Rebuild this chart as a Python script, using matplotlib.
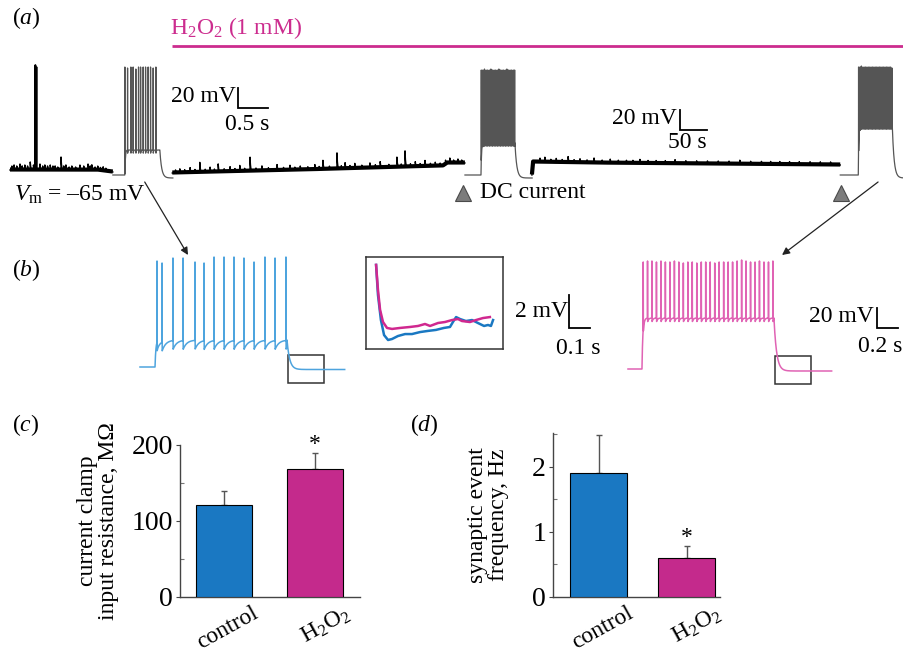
import numpy as np
import matplotlib
matplotlib.use("Agg")
import matplotlib.pyplot as plt
from matplotlib.patches import Rectangle, ConnectionPatch
from matplotlib import transforms as mtrans

# ---------------- data ----------------
groups = ["control", "H$_2$O$_2$"]
resistance_mean = [121, 168]     # MOhm
resistance_sem = [18, 21]
freq_mean = [1.91, 0.60]          # Hz
freq_sem = [0.58, 0.18]

# panel (a): slow (continuous) recording, time in s, voltage in mV
segA_base_t = [18.5, 180, 200, 209]
segA_base_v = [-65, -65, -66.5, -67]
segA_ev_t = [22, 26, 31, 37, 41, 46, 51, 56, 62, 74, 79, 83, 88, 93, 98, 102, 107, 113, 118,
             122, 128, 133, 140, 148, 155, 163, 167, 170, 176, 181, 186, 191, 196]
segA_ev_a = [4, 5, 4, 6, 4, 5, 4, 8, 5, 6, 4, 5, 4, 5, 4, 4, 3, 13, 4, 5, 3, 4, 3, 5, 4, 6,
             4, 5, 3, 4, 3, 4, 3]
segA_spike_t = [65.5, 67.5]
segA_spike_pk = [40, 38]

segB_base_t = [319, 556, 741, 820, 828, 861]
segB_base_v = [-68, -65, -62, -61, -58, -58]
segB_ev_t = [325, 333, 342, 352, 361, 370, 380, 389, 397, 404, 415, 426, 435, 444, 453, 463,
             474, 485, 497, 513, 525, 537, 546, 556, 570, 583, 591, 598, 610, 624, 632, 639,
             648, 657, 670, 685, 695, 704, 720, 735, 743, 750, 760, 769, 778, 787, 797,
             806, 815, 825, 833, 840, 848, 855]
segB_ev_a = [3, 4, 3, 5, 3, 10, 3, 5, 3, 8, 3, 5, 3, 6, 3, 14, 3, 5, 3, 6, 3, 5, 3, 4, 3,
             5, 3, 9, 3, 16, 3, 6, 3, 5, 3, 5, 3, 6, 3, 10, 3, 16, 3, 5, 3, 6, 3, 4, 3, 4,
             5, 3, 4, 3]

segC_base_t = [985, 987, 1100, 1556]
segC_base_v = [-70, -57, -58, -60]
segC_ev_t = [1000, 1009, 1020, 1030, 1041, 1052, 1063, 1074, 1087, 1100, 1115, 1130, 1145,
             1160, 1172, 1185, 1200, 1215, 1232, 1250, 1270, 1290, 1310, 1330, 1350, 1370,
             1390, 1410, 1427, 1444, 1462, 1480, 1500, 1519, 1538]
segC_ev_a = [4, 5, 3, 4, 3, 6, 3, 4, 3, 5, 3, 4, 3, 3, 3, 4, 3, 3, 3, 4, 3, 3, 3, 3, 3, 4,
             3, 3, 3, 3, 3, 3, 3, 3, 3]

# current-step sweeps inserted in (a) (fast time, s)
sw1_start, sw1_dur, sw1_on, sw1_off = 209, 1.0, 0.2, 0.783
sw1_v = (-70, -45, -73)
sw1_spk = [0.2, 0.245, 0.3, 0.338, 0.383, 0.428, 0.462, 0.505, 0.545, 0.588, 0.628, 0.672, 0.717]
sw1_pk = [38, 37, 38, 38, 36, 38, 38, 38, 38, 38, 38, 37, 38]

sw2_start, sw2_dur, sw2_on, sw2_off = 861, 1.12, 0.267, 0.833
sw2_v = (-70, -38, -73)
sw2_spk = [0.272, 0.298, 0.325, 0.352, 0.378, 0.405, 0.432, 0.458, 0.485, 0.512, 0.538,
           0.565, 0.592, 0.618, 0.645, 0.672, 0.698, 0.725, 0.752, 0.778, 0.805, 0.828]
sw2_pk = [35, 35, 36, 35, 35, 35, 36, 35, 35, 35, 35, 36, 35, 35, 35, 35, 36, 35, 35, 35, 35, 35]

sw3_start, sw3_dur, sw3_on, sw3_off = 1556, 1.1, 0.3, 0.867
sw3_v = (-70, -21, -73)
sw3_spk = [0.305, 0.328, 0.351, 0.375, 0.398, 0.421, 0.444, 0.467, 0.491, 0.514, 0.537,
           0.560, 0.583, 0.607, 0.630, 0.653, 0.676, 0.699, 0.723, 0.746, 0.769, 0.792,
           0.815, 0.839, 0.862]
sw3_pk = [38, 38, 39, 38, 38, 38, 38, 38, 38, 38, 38, 38, 38, 38, 38, 38, 38, 38, 38, 38,
          38, 38, 38, 38, 37]

# panel (b)
blue_dur, blue_on, blue_off = 1.95, 0.143, 1.40
blue_v = (-70, -43, -72.5)
blue_spk = [0.162, 0.21, 0.314, 0.41, 0.524, 0.61, 0.705, 0.8, 0.895, 0.99, 1.086, 1.19, 1.286, 1.39]
blue_pk = [36, 34, 39, 39, 35, 34, 40, 40, 40, 39, 35, 40, 39, 40]

pink_dur, pink_on, pink_off = 1.94, 0.133, 1.39
pink_v = (-70, -19, -72)
pink_spk = [0.145, 0.186, 0.228, 0.271, 0.314, 0.356, 0.399, 0.442, 0.484, 0.527, 0.570,
            0.612, 0.655, 0.698, 0.740, 0.783, 0.826, 0.868, 0.911, 0.954, 0.996, 1.039,
            1.082, 1.124, 1.167, 1.210, 1.252, 1.295, 1.338, 1.380]
pink_pk = [37, 38, 38, 37, 38, 37, 37, 38, 37, 36, 37, 37, 36, 37, 37, 37, 36, 37, 37, 37,
           37, 38, 39, 38, 37, 37, 38, 37, 37, 38]

# inset: after-step region (s, mV)
ins_mag_t = [0.048, 0.057, 0.067, 0.081, 0.10, 0.124, 0.162, 0.21, 0.248, 0.281, 0.305,
             0.343, 0.376, 0.41, 0.438, 0.457, 0.495, 0.524, 0.557, 0.59]
ins_mag_v = [-66.48, -68.0, -69.2, -69.94, -70.30, -70.36, -70.30, -70.24, -70.18, -70.06,
             -70.18, -70.0, -69.94, -69.82, -69.76, -69.88, -69.94, -69.82, -69.7, -69.64]
ins_blu_t = [0.048, 0.057, 0.071, 0.086, 0.105, 0.124, 0.152, 0.186, 0.219, 0.257, 0.295,
             0.333, 0.371, 0.40, 0.414, 0.429, 0.448, 0.476, 0.505, 0.533, 0.562, 0.581,
             0.595, 0.605]
ins_blu_v = [-66.48, -68.3, -69.82, -70.73, -71.03, -70.97, -70.79, -70.67, -70.67, -70.55,
             -70.48, -70.42, -70.3, -70.24, -69.94, -69.64, -69.76, -69.88, -69.82, -70.0,
             -70.18, -70.12, -70.18, -69.82]

# ---------------- style ----------------
plt.rcParams["font.family"] = ["Liberation Serif", "DejaVu Serif"]
plt.rcParams["mathtext.fontset"] = "custom"
plt.rcParams["mathtext.rm"] = "Liberation Serif"
plt.rcParams["mathtext.it"] = "Liberation Serif:italic"
plt.rcParams["mathtext.bf"] = "Liberation Serif:bold"
FS = 17
plt.rcParams["font.size"] = FS

BLUE = "#1a78c2"
MAG = "#c42a8c"
TR_BLUE = "#4ea4de"
TR_PINK = "#e063b4"
GREY = "#555555"

W, H = 904, 657
fig = plt.figure(figsize=(W / 100, H / 100), dpi=100)


def add_ax(x0, y0, x1, y1):
    return fig.add_axes([x0 / W, 1 - y1 / H, (x1 - x0) / W, (y1 - y0) / H])


def slow_segment(base_t, base_v, ev_t, ev_a, dt=0.1, tau=1.0):
    t = np.arange(base_t[0], base_t[-1], dt)
    v = np.interp(t, base_t, base_v)
    b = v.copy()
    for te, a in zip(ev_t, ev_a):
        m = t >= te
        v[m] += a * np.exp(-(t[m] - te) / tau)
    return t, b, v


def sweep(dur, t_on, t_off, vs, spk, pk, dt=0.0005, tau_on=0.008, tau_off=0.03,
          ahp=6.0, tau_ahp=0.012, width=0.001):
    v_pre, v_plat, v_post = vs
    t = np.arange(0, dur, dt)
    v = np.full_like(t, float(v_pre))
    on = (t >= t_on) & (t < t_off)
    v[on] = v_plat + (v_pre - v_plat) * np.exp(-(t[on] - t_on) / tau_on)
    off = t >= t_off
    v[off] = v_post + (v_plat - v_post) * np.exp(-(t[off] - t_off) / tau_off)
    for ts, p in zip(spk, pk):
        ts = np.round(ts / dt) * dt
        aft = (t > ts) & (t < t_off)
        v[aft] -= ahp * np.exp(-(t[aft] - ts) / tau_ahp)
        tri = p - (p - v_plat) * np.abs(t - ts) / width
        v = np.maximum(v, tri)
    return t, v


# ---------------- panel (a) ----------------
FAST = (30 / 0.5) / (27 / 50)   # fast-sweep time compression (0.5 s bar vs 50 s bar)
ax_a = add_ax(0, 0, 904, 205)
ax_a.set_xlim(0, 1674)
ax_a.set_ylim(-100, 105)
ax_a.axis("off")

for bt, bv, et, ea in [(segA_base_t, segA_base_v, segA_ev_t, segA_ev_a),
                       (segB_base_t, segB_base_v, segB_ev_t, segB_ev_a),
                       (segC_base_t, segC_base_v, segC_ev_t, segC_ev_a)]:
    t, b, v = slow_segment(bt, bv, et, ea)
    ax_a.plot(t, b + 0.5, color="black", lw=3.0, solid_capstyle="butt")
    ax_a.plot(t, v, color="black", lw=1.0)
# spontaneous action potentials in segment A
for ts, p in zip(segA_spike_t, segA_spike_pk):
    tt = np.arange(ts - 1.5, ts + 1.5, 0.05)
    vb = np.interp(tt, segA_base_t, segA_base_v)
    vv = np.maximum(vb, p - (p - vb) * np.abs(tt - ts) / 0.6)
    ax_a.plot(tt, vv, color="black", lw=1.3)

for st, du, on, of, vs, sp, pk in [
        (sw1_start, sw1_dur, sw1_on, sw1_off, sw1_v, sw1_spk, sw1_pk),
        (sw2_start, sw2_dur, sw2_on, sw2_off, sw2_v, sw2_spk, sw2_pk),
        (sw3_start, sw3_dur, sw3_on, sw3_off, sw3_v, sw3_spk, sw3_pk)]:
    t, v = sweep(du, on, of, vs, sp, pk, ahp=4, tau_ahp=0.006)
    ax_a.plot(st + t * FAST, v, color=GREY, lw=0.9)

# H2O2 bar
btr = mtrans.blended_transform_factory(ax_a.transData, ax_a.transAxes)
ax_a.plot([segB_base_t[0], 1674], [0.776, 0.776], transform=btr, color="#cc2c8e", lw=2.0,
          solid_capstyle="butt", clip_on=False)
ax_a.text(segB_base_t[0] - 4, 0.865, "H$_2$O$_2$ (1 mM)", transform=btr, color="#cc2c8e",
          ha="left", va="center", fontsize=FS)

# scale bars
ax_a.plot([441, 441, 441 + 0.5 * FAST], [17, -3, -3], color="black", lw=1.3,
          solid_joinstyle="miter")
ax_a.text(437, 8, "20 mV", ha="right", va="center")
ax_a.text(457, -20, "0.5 s", ha="center", va="center")
ax_a.plot([1259, 1259, 1309], [-5, -25, -25], color="black", lw=1.3, solid_joinstyle="miter")
ax_a.text(1253, -14, "20 mV", ha="right", va="center")
ax_a.text(1272, -38, "50 s", ha="center", va="center")

ax_a.text(26, -90, r"$V_{\rm m}$ = –65 mV", ha="left", va="center")
ax_a.plot([sw2_start - 4, sw3_start + 2], [-88, -88], ls="none", marker="^", ms=11,
          mfc="#7c7c7c", mec="#4a4a4a", mew=0.8)
ax_a.text(888, -87, "DC current", ha="left", va="center")

# ---------------- panel (b) ----------------
ax_b1 = add_ax(130, 250, 360, 390)
ax_b1.set_xlim(-10 / 105, 220 / 105)
ax_b1.set_ylim(-93, 47)
ax_b1.axis("off")
t, v = sweep(blue_dur, blue_on, blue_off, blue_v, blue_spk, blue_pk, ahp=9, tau_ahp=0.035,
             tau_off=0.025)
ax_b1.plot(t, v, color=TR_BLUE, lw=1.1)
ax_b1.add_patch(Rectangle((1.41, -86), 0.343, 28, fill=False, ec="#333333", lw=1.1))

ax_b2 = add_ax(615, 250, 904, 390)
ax_b2.set_xlim(-13 / 105, 276 / 105)
ax_b2.set_ylim(-91, 49)
ax_b2.axis("off")
t, v = sweep(pink_dur, pink_on, pink_off, pink_v, pink_spk, pink_pk, ahp=4, tau_ahp=0.01,
             tau_off=0.025)
ax_b2.plot(t, v, color=TR_PINK, lw=1.1)
ax_b2.add_patch(Rectangle((1.40, -85), 0.343, 28, fill=False, ec="#333333", lw=1.1))
ax_b2.plot([2.371, 2.371, 2.571], [-9, -29, -29], color="black", lw=1.3,
           solid_joinstyle="miter", clip_on=False)
ax_b2.text(2.340, -18, "20 mV", ha="right", va="center")
ax_b2.text(2.40, -48, "0.2 s", ha="center", va="center", clip_on=False)

ax_in = add_ax(366, 257, 503, 349)
ax_in.set_xlim(0, 137 / 210)
ax_in.set_ylim(-66 - 92 / 16.5, -66)
ax_in.set_xticks([])
ax_in.set_yticks([])
for s in ax_in.spines.values():
    s.set_color("#333333")
    s.set_linewidth(1.1)
ax_in.plot(ins_blu_t, ins_blu_v, color=BLUE, lw=1.8)
ax_in.plot(ins_mag_t, ins_mag_v, color="#d0288f", lw=1.8)
ax_in.plot([0.967, 0.967, 1.067], [-68.3, -70.3, -70.3], color="black", lw=1.3,
           solid_joinstyle="miter", clip_on=False)
ax_in.text(0.962, -69.3, "2 mV", ha="right", va="center", clip_on=False)
ax_in.text(1.01, -71.55, "0.1 s", ha="center", va="center", clip_on=False)

# arrows from (a) to (b)
for axB, xyB, xyA in [(ax_b1, (0.457, 42), (268, -77)), (ax_b2, (1.467, 44), (1626, -77))]:
    cp = ConnectionPatch(xyA=xyA, coordsA="data", axesA=ax_a, xyB=xyB, coordsB="data",
                         axesB=axB, arrowstyle="-|>", mutation_scale=11, color="#222222",
                         lw=0.9)
    fig.add_artist(cp)

# ---------------- panels (c), (d) ----------------
def bar_panel(ax, means, sems, ylim, major, minor, width, xl):
    x = np.arange(len(means))
    ax.bar(x, means, width=width, color=[BLUE, MAG], edgecolor="black", linewidth=0.8,
           zorder=3)
    ax.errorbar(x, means, yerr=[[0] * len(sems), sems], fmt="none", ecolor="#555555",
                elinewidth=1.0, capsize=2, capthick=1.0, zorder=2)
    ax.set_xlim(*xl)
    ax.set_ylim(*ylim)
    ax.set_yticks(major)
    ax.set_yticks(minor, minor=True)
    ax.set_xticks([])
    for s in ["top", "right"]:
        ax.spines[s].set_visible(False)
    for s in ["left", "bottom"]:
        ax.spines[s].set_color("#444444")
        ax.spines[s].set_linewidth(1.0)
    ax.tick_params(axis="y", which="major", length=3, width=0.8, color="#444444", pad=2,
                   labelsize=20)
    ax.tick_params(axis="y", which="minor", length=3, width=0.8, color="#777777",
                   direction="in")
    ax.annotate("*", xy=(1, means[1] + sems[1]), xytext=(0, -1),
                textcoords="offset points", ha="center", va="bottom", fontsize=FS)
    tr = mtrans.offset_copy(ax.get_xaxis_transform(), fig=fig, x=20, y=-4, units="points")
    for i, g in enumerate(groups):
        ax.text(i, 0, g, transform=tr, rotation=29, rotation_mode="anchor", ha="right",
                va="top", fontsize=FS)


ax_c = add_ax(180, 445, 360, 597)
bar_panel(ax_c, resistance_mean, resistance_sem, (0, 200), [0, 100, 200], [50, 150], 0.61,
          (-0.48, 1.49))
ax_c.set_ylabel("current clamp\ninput resistance, MΩ", fontsize=FS, labelpad=9,
                linespacing=1.0)

ax_d = add_ax(553, 433, 720, 597)
bar_panel(ax_d, freq_mean, freq_sem, (0, 2.52), [0, 1, 2], [0.5, 1.5, 2.5], 0.65,
          (-0.517, 1.38))
ax_d.set_ylabel("synaptic event\nfrequency, Hz", fontsize=FS, labelpad=17, linespacing=1.0)

# panel letters
for lbl, x, y in [("a", 12, 18), ("b", 12, 270), ("c", 12, 425), ("d", 410, 425)]:
    fig.text(x / W, 1 - y / H, "($%s$)" % lbl, ha="left", va="center", fontsize=FS)

fig.savefig("out.png", dpi=100)
